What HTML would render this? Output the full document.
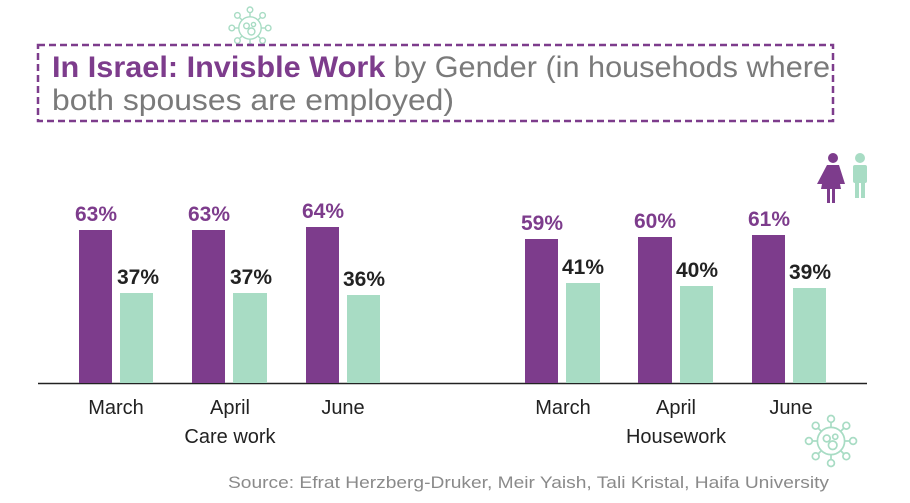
<!DOCTYPE html>
<html><head><meta charset="utf-8"><style>
html,body{margin:0;padding:0;background:#fff;}
svg{display:block;font-family:"Liberation Sans","DejaVu Sans",sans-serif;}
</style></head><body>
<svg width="910" height="503" viewBox="0 0 910 503" xmlns="http://www.w3.org/2000/svg">
<rect width="910" height="503" fill="#fff"/>
<defs>
<g id="virus" fill="none" stroke="#a8dcc4" stroke-width="2">
<circle r="16"/>
<circle cx="-5" cy="-3" r="4"/><circle cx="5" cy="-5" r="3"/><circle cx="2" cy="5" r="5"/>
<line x1="0" y1="-16" x2="0" y2="-22"/><circle cy="-26" r="4"/>
<line x1="0" y1="16" x2="0" y2="22"/><circle cy="26" r="4"/>
<line x1="-16" y1="0" x2="-22" y2="0"/><circle cx="-26" r="4"/>
<line x1="16" y1="0" x2="22" y2="0"/><circle cx="26" r="4"/>
<line x1="11" y1="-11" x2="15" y2="-15"/><circle cx="18" cy="-18" r="4"/>
<line x1="-11" y1="11" x2="-15" y2="15"/><circle cx="-18" cy="18" r="4"/>
<line x1="11" y1="11" x2="15" y2="15"/><circle cx="18" cy="18" r="4"/>
<line x1="-11" y1="-11" x2="-15" y2="-15"/><circle cx="-18" cy="-18" r="4"/>
</g>
</defs>
<use href="#virus" transform="translate(250,28) scale(0.7)"/>
<rect x="38" y="45" width="795" height="76" fill="#fff" stroke="#7d3c8c" stroke-width="2.5" stroke-dasharray="7,4"/>
<text x="52" y="77" font-size="30" fill="#7a7a7a" textLength="778" lengthAdjust="spacingAndGlyphs"><tspan fill="#7d3c8c" font-weight="bold">In Israel: Invisble Work</tspan> by Gender (in househods where</text>
<text x="52" y="110" font-size="30" fill="#7a7a7a" textLength="402" lengthAdjust="spacingAndGlyphs">both spouses are employed)</text>
<!-- people icon -->
<g fill="#7d3c8c"><circle cx="833" cy="158" r="5"/><path d="M827 165h12l6 19h-6l-1 -10l3 15h-6v14h-3v-14h-2v14h-3v-14h-6l3-15l-1 10h-6z"/></g>
<g fill="#a8dcc4"><circle cx="860" cy="158" r="5"/><rect x="853" y="165" width="14" height="18" rx="2"/><rect x="855" y="182" width="4" height="16"/><rect x="861" y="182" width="4" height="16"/></g>
<line x1="38" y1="383.5" x2="867" y2="383.5" stroke="#222" stroke-width="1.5"/>
<g fill="#7d3c8c">
<rect x="79" y="230" width="33" height="153"/><rect x="192" y="230" width="33" height="153"/><rect x="306" y="227" width="33" height="156"/>
<rect x="525" y="239" width="33" height="144"/><rect x="638" y="237" width="34" height="146"/><rect x="752" y="235" width="33" height="148"/>
</g>
<g fill="#a8dcc4">
<rect x="120" y="293" width="33" height="90"/><rect x="233" y="293" width="34" height="90"/><rect x="347" y="295" width="33" height="88"/>
<rect x="566" y="283" width="34" height="100"/><rect x="680" y="286" width="33" height="97"/><rect x="793" y="288" width="33" height="95"/>
</g>
<g font-size="21" font-weight="bold" fill="#7d3c8c" text-anchor="middle">
<text x="96" y="221">63%</text><text x="209" y="221">63%</text><text x="323" y="218">64%</text>
<text x="542" y="230">59%</text><text x="655" y="228">60%</text><text x="769" y="226">61%</text>
</g>
<g font-size="21" font-weight="bold" fill="#222" text-anchor="middle">
<text x="138" y="284">37%</text><text x="251" y="284">37%</text><text x="364" y="286">36%</text>
<text x="583" y="274">41%</text><text x="697" y="277">40%</text><text x="810" y="279">39%</text>
</g>
<g font-size="20" fill="#222" text-anchor="middle">
<text x="116" y="414">March</text><text x="230" y="414">April</text><text x="230" y="443">Care work</text><text x="343" y="414">June</text>
<text x="563" y="414">March</text><text x="676" y="414">April</text><text x="676" y="443">Housework</text><text x="791" y="414">June</text>
</g>
<use href="#virus" transform="translate(831,441) scale(0.85)"/>
<text x="228" y="488" font-size="17" fill="#8a8a8a" textLength="601" lengthAdjust="spacingAndGlyphs">Source: Efrat Herzberg-Druker, Meir Yaish, Tali Kristal, Haifa University</text>
</svg>
</body></html>
